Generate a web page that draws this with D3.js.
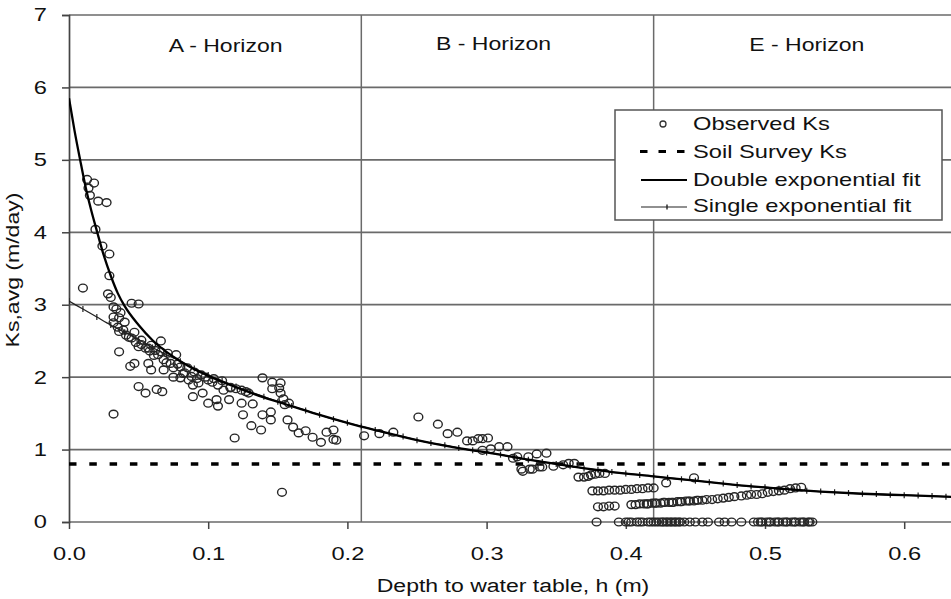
<!DOCTYPE html>
<html><head><meta charset="utf-8">
<script src="https://cdn.jsdelivr.net/npm/d3@7"></script>
<style>body{margin:0;background:#fff}svg{display:block;font-family:"Liberation Sans",Arial,sans-serif}</style>
</head><body>
<svg id="c" width="951" height="599"></svg>
<script>
// ---- data ----
const yTicks = [0,1,2,3,4,5,6,7];
const xTicks = [0.0,0.1,0.2,0.3,0.4,0.5,0.6];
const horizonBounds = [0.21, 0.42];
const horizonLabels = ["A - Horizon","B - Horizon","E - Horizon"];
const horizonLabelX = [0.1125, 0.305, 0.530];
const soilSurveyKs = 0.8;
const legendLabels = ["Observed Ks","Soil Survey Ks","Double exponential fit","Single exponential fit"];

const obsH = [0.013,0.018,0.014,0.015,0.021,0.027,0.019,0.024,0.029,0.029,0.010,0.028,0.030,0.045,0.050,
0.032,0.034,0.037,0.032,0.036,0.040,0.032,0.035,0.039,0.047,0.036,0.045,0.052,0.066,0.050,0.059,
0.057,0.062,0.066,0.071,0.036,0.044,0.047,0.050,0.055,0.063,0.067,0.032,
0.064,0.068,0.073,0.077,0.057,0.059,0.068,0.075,0.080,0.085,0.090,0.095,0.075,0.080,0.086,0.093,0.100,0.103,0.107,0.111,0.089,0.089,0.096,0.100,0.106,0.107,0.115,0.124,0.132,0.125,0.119,0.131,0.138,0.139,0.145,0.145,0.139,0.146,0.152,0.146,0.151,0.152,0.154,0.155,0.158,0.153,0.157,0.161,0.165,0.170,0.175,0.181,0.185,0.190,0.192,0.190,
0.052,0.055,0.058,0.061,0.048,0.043,0.041,0.070,0.078,0.082,0.088,0.092,0.098,0.104,0.110,0.116,0.120,0.127,0.083,0.116,0.124,0.129,
0.212,0.223,0.233,0.251,0.265,0.272,0.279,0.286,0.290,0.294,0.297,0.301,0.297,0.303,0.309,0.315,0.319,0.322,0.325,0.330,0.331,0.336,0.338,0.343,0.348,0.326,0.333,0.340,0.355,0.359,0.363,0.366,0.370,0.373,0.375,0.378,0.381,0.385,
0.376,0.380,0.384,0.388,0.392,0.396,0.400,0.404,0.408,0.412,0.416,0.420,0.429,0.449,
0.483,0.487,0.490,0.494,0.498,0.502,0.506,0.510,0.514,0.518,0.522,0.526,
0.380,0.384,0.388,0.392,0.404,0.407,0.410,0.413,0.416,0.419,0.422,0.425,0.428,0.431,0.434,0.437,0.440,0.443,0.446,0.449,0.452,0.455,0.458,0.462,0.466,0.470,0.474,0.478,
0.415,0.421,0.427,0.433,0.439,0.445,0.451,
0.379,0.395,0.400,0.404,0.408,0.412,0.416,0.420,0.424,0.427,0.430,0.433,0.436,0.439,0.446,0.450,0.455,0.459,0.467,0.471,0.476,0.483,0.492,0.495,0.498,0.501,0.504,0.507,0.510,0.513,0.516,0.519,0.522,0.525,0.528,0.531,0.534,
0.402,0.410,0.418,0.422,0.426,0.429,0.432,0.435,0.438,0.442,0.497,0.503,0.509,0.515,0.521,0.527,0.532];
const obsKs = [4.73,4.68,4.61,4.51,4.43,4.41,4.04,3.81,3.70,3.40,3.23,3.15,3.10,3.02,3.01,
2.97,2.94,2.89,2.83,2.82,2.76,2.75,2.69,2.65,2.62,2.63,2.54,2.51,2.50,2.42,2.44,
2.40,2.37,2.35,2.33,2.35,2.15,2.19,1.87,1.78,1.83,1.80,1.49,
2.31,2.24,2.19,2.31,2.19,2.10,2.10,2.13,2.14,2.13,2.07,2.03,2.00,1.99,1.96,1.92,1.96,1.93,1.89,1.82,1.89,1.73,1.78,1.64,1.69,1.60,1.69,1.64,1.63,1.48,1.16,1.33,1.27,1.48,1.52,1.41,1.99,1.93,1.92,1.84,1.85,1.78,1.70,1.62,1.64,0.41,1.41,1.31,1.23,1.26,1.17,1.10,1.24,1.27,1.13,1.14,
2.45,2.40,2.36,2.30,2.48,2.55,2.58,2.20,2.18,2.05,2.01,1.98,2.00,1.98,1.95,1.86,1.84,1.80,2.06,1.85,1.82,1.78,
1.19,1.22,1.24,1.45,1.35,1.22,1.24,1.12,1.12,1.15,1.15,1.16,0.99,1.01,1.04,1.04,0.88,0.90,0.73,0.90,0.73,0.94,0.76,0.95,0.77,0.70,0.73,0.76,0.79,0.81,0.81,0.62,0.62,0.63,0.65,0.66,0.67,0.67,
0.43,0.43,0.43,0.44,0.44,0.44,0.45,0.45,0.46,0.46,0.47,0.47,0.54,0.61,
0.36,0.37,0.38,0.38,0.39,0.41,0.42,0.43,0.44,0.46,0.47,0.48,
0.21,0.21,0.22,0.22,0.24,0.24,0.25,0.25,0.25,0.26,0.26,0.26,0.27,0.27,0.27,0.28,0.28,0.29,0.29,0.29,0.30,0.30,0.31,0.31,0.32,0.33,0.34,0.35,
0.25,0.26,0.27,0.27,0.28,0.29,0.30,
0,0,0,0,0,0,0,0,0,0,0,0,0,0,0,0,0,0,0,0,0,0,0,0,0,0,0,0,0,0,0,0,0,0,0,0,0,
0,0,0,0,0,0,0,0,0,0,0,0,0,0,0,0,0];

const dblH  = [0,0.004,0.008,0.012,0.016,0.02,0.025,0.03,0.035,0.04,0.05,0.06,0.07,0.08,0.09,0.1,0.12,0.14,0.16,0.18,0.2,0.22,0.25,0.28,0.3,0.33,0.36,0.39,0.42,0.45,0.48,0.51,0.54,0.57,0.6,0.63,0.66];
const dblKs = [5.85,5.4,5.0,4.62,4.3,4.02,3.68,3.4,3.16,2.98,2.72,2.51,2.35,2.22,2.11,2.02,1.86,1.72,1.6,1.48,1.37,1.27,1.13,1.02,0.96,0.86,0.77,0.69,0.63,0.57,0.51,0.46,0.42,0.39,0.37,0.35,0.33];

const sglH  = [0,0.01,0.02,0.03,0.04,0.05,0.06,0.07,0.08,0.09,0.1,0.11,0.12,0.13,0.14,0.15,0.16,0.17,0.18,0.19,0.2,0.21,0.22,0.23,0.24,0.25,0.26,0.27,0.28,0.29,0.3,0.31,0.32,0.33,0.34,0.35,0.36,0.37,0.38,0.39,0.4,0.41,0.42,0.43,0.44,0.45,0.46,0.47,0.48,0.49,0.5,0.51,0.52,0.53,0.54,0.55,0.56,0.57,0.58,0.59,0.6,0.61,0.62,0.63,0.64,0.65];
const sglKs = [3.05,2.94,2.83,2.72,2.62,2.52,2.41,2.31,2.22,2.12,2.03,1.95,1.87,1.80,1.73,1.66,1.60,1.54,1.48,1.42,1.37,1.32,1.27,1.22,1.18,1.13,1.09,1.06,1.02,0.99,0.96,0.93,0.89,0.86,0.83,0.80,0.77,0.74,0.72,0.69,0.67,0.65,0.63,0.61,0.59,0.57,0.55,0.53,0.51,0.49,0.48,0.46,0.45,0.43,0.42,0.41,0.40,0.39,0.385,0.375,0.37,0.365,0.36,0.35,0.345,0.34];

// ---- chart ----
const SX = 1.28; // horizontal glyph stretch of the reference lettering
const svg = d3.select("#c");
const x0 = 69, xPerTenth = 139.2;
const x = d3.scaleLinear().domain([0, 0.7]).range([x0, x0 + 7*xPerTenth]);
const y = d3.scaleLinear().domain([0, 7]).range([522, 15]);
const W = 951;
const grid = "#6a6a6a";

function stext(parent, tx, ty, str, size, anchor, rot) {
  return parent.append("text")
    .attr("transform", `translate(${tx},${ty})` + (rot ? ` rotate(${rot})` : "") + ` scale(${SX},1)`)
    .attr("text-anchor", anchor).attr("font-size", size).attr("fill", "#111").text(str);
}

const g = svg.append("g");
g.selectAll("line.hg").data(yTicks).join("line")
  .attr("x1", x(0)).attr("x2", W).attr("y1", d=>y(d)).attr("y2", d=>y(d))
  .attr("stroke", grid).attr("stroke-width", 1.7);
g.selectAll("line.vb").data(horizonBounds).join("line")
  .attr("x1", d=>x(d)).attr("x2", d=>x(d)).attr("y1", y(0)).attr("y2", y(7))
  .attr("stroke", grid).attr("stroke-width", 1.5);

// axes
const yAxis = d3.axisLeft(y).tickValues(yTicks).tickSize(7).tickPadding(15).tickFormat(d3.format("d"));
const ya = svg.append("g").attr("transform", `translate(${x(0)},0)`).call(yAxis);
ya.select(".domain").attr("stroke", "#444").attr("stroke-width", 1.7);
ya.selectAll(".tick line").attr("stroke", "#444").attr("stroke-width", 1.5);
ya.selectAll("text").attr("font-size", 18.5).attr("fill", "#111")
  .attr("x", -22 / SX).attr("transform", `scale(${SX},1)`);

const xAxis = d3.axisBottom(x).tickValues(xTicks).tickSize(7).tickPadding(18).tickFormat(d3.format(".1f"));
const xa = svg.append("g").attr("transform", `translate(0,${y(0)})`).call(xAxis);
xa.select(".domain").remove();
xa.selectAll(".tick line").attr("stroke", "#444").attr("stroke-width", 1.5);
xa.selectAll("text").attr("font-size", 18.5).attr("fill", "#111").attr("transform", `scale(${SX},1)`);

// clip for plot
svg.append("clipPath").attr("id","pc").append("rect").attr("x", x(0)).attr("y", 0).attr("width", W - x(0)).attr("height", y(0)+6);
const p = svg.append("g").attr("clip-path","url(#pc)");

// soil survey line
p.append("line").attr("x1", x(0)).attr("x2", W).attr("y1", y(soilSurveyKs)).attr("y2", y(soilSurveyKs))
  .attr("stroke", "#000").attr("stroke-width", 3.5).attr("stroke-dasharray", "7.5,12.8");

// observed
const pts = obsH.map((h,i)=>[h, obsKs[i]]);
p.selectAll("ellipse.o").data(pts).join("ellipse")
  .attr("cx", d=>x(d[0])).attr("cy", d=>y(d[1])).attr("rx", 4.4).attr("ry", 3.9)
  .attr("fill", "none").attr("stroke", "#262626").attr("stroke-width", 1.4);

// single exponential fit
const line = d3.line().x(d=>x(d[0])).y(d=>y(d[1])).curve(d3.curveMonotoneX);
const sgl = sglH.map((h,i)=>[h, sglKs[i]]);
p.append("path").attr("d", line(sgl)).attr("fill","none").attr("stroke","#222").attr("stroke-width",1.3);
p.selectAll("line.sm").data(sgl).join("line")
  .attr("x1", d=>x(d[0])).attr("x2", d=>x(d[0])).attr("y1", d=>y(d[1])-3).attr("y2", d=>y(d[1])+3)
  .attr("stroke","#222").attr("stroke-width",1.2);

// double exponential fit
const dbl = dblH.map((h,i)=>[h, dblKs[i]]);
p.append("path").attr("d", line(dbl)).attr("fill","none").attr("stroke","#000").attr("stroke-width",2.3);

// horizon labels
const hzY = [52, 50, 51];
horizonLabels.forEach((t,i)=> stext(svg, x(horizonLabelX[i]), hzY[i], t, 18, "middle"));

// legend
const lg = svg.append("g");
lg.append("rect").attr("x", 615).attr("y", 110).attr("width", 327).attr("height", 110)
  .attr("fill","#fff").attr("stroke","#555").attr("stroke-width",1.5);
const lBase = [130, 158, 185.5, 211.5];
legendLabels.forEach((t,i)=> stext(lg, 693, lBase[i], t, 18.5, "start"));
lg.append("circle").attr("cx", 663).attr("cy", 124).attr("r", 3).attr("fill","none").attr("stroke","#333").attr("stroke-width",1.3);
lg.append("line").attr("x1", 640).attr("x2", 690).attr("y1", 151.5).attr("y2", 151.5)
  .attr("stroke","#000").attr("stroke-width",3).attr("stroke-dasharray","7.5,11");
lg.append("line").attr("x1", 641).attr("x2", 687).attr("y1", 180).attr("y2", 180).attr("stroke","#000").attr("stroke-width",2);
lg.append("line").attr("x1", 641).attr("x2", 687).attr("y1", 207).attr("y2", 207).attr("stroke","#222").attr("stroke-width",1.2);
lg.append("line").attr("x1", 667).attr("x2", 667).attr("y1", 204.5).attr("y2", 209.5).attr("stroke","#222").attr("stroke-width",1.4);

// axis titles
stext(svg, 19, 270, "Ks,avg (m/day)", 18, "middle", -90);
stext(svg, 513, 592, "Depth to water table, h (m)", 18, "middle");
</script>
</body></html>
